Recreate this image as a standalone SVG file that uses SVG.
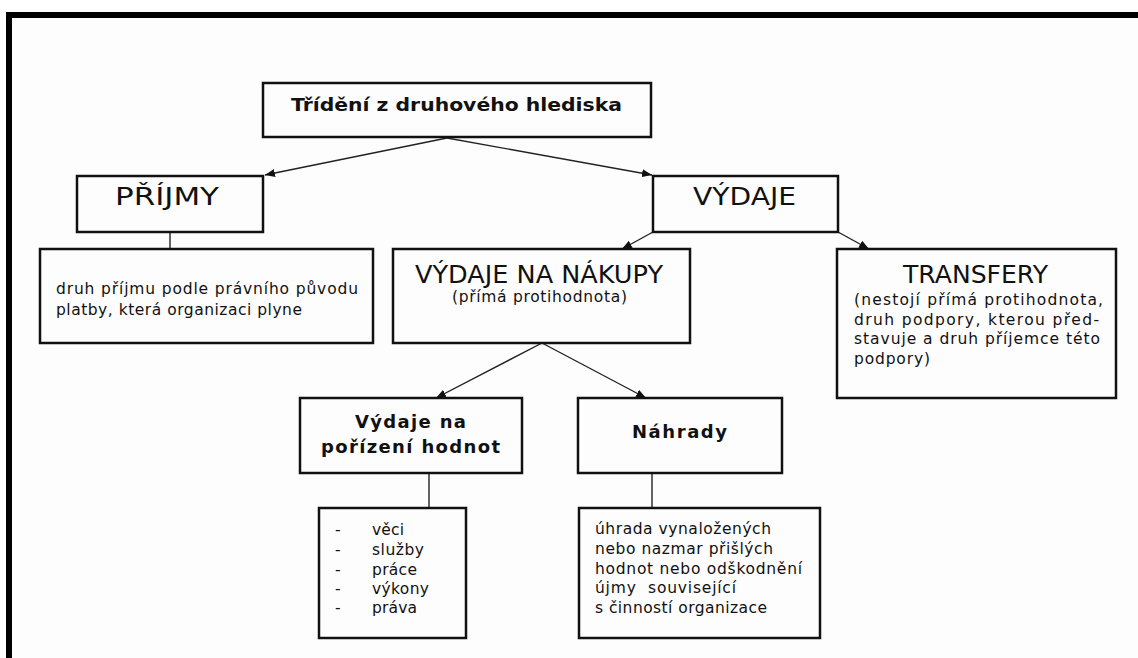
<svg xmlns="http://www.w3.org/2000/svg" width="1138" height="658" viewBox="0 0 1138 658">
<defs>
<marker id="ah" markerUnits="userSpaceOnUse" markerWidth="10" markerHeight="8" refX="10" refY="4" orient="auto">
<path d="M0,0 L10,4 L0,8 z" fill="#111"/>
</marker>
<style>
.box{fill:#fdfdfd;stroke:#111;stroke-width:2.5}
.con{stroke:#222;stroke-width:1.4;fill:none}
.t{font-family:"DejaVu Sans","Liberation Sans",sans-serif;fill:#111}
.b{font-weight:bold;font-size:18px}
.h{font-size:24px}
.s{font-size:15.5px}
.c{text-anchor:middle}
</style>
</defs>
<rect x="0" y="0" width="1138" height="658" fill="#ffffff"/>
<rect x="12" y="18" width="1126" height="640" fill="#fdfdfd"/>
<rect x="6" y="12" width="1132" height="6" fill="#000"/>
<rect x="6" y="12" width="6" height="646" fill="#000"/>

<g id="connectors">
<line class="con" x1="447" y1="138" x2="265" y2="175" marker-end="url(#ah)"/>
<line class="con" x1="447" y1="138" x2="652" y2="175" marker-end="url(#ah)"/>
<line class="con" x1="653" y1="232" x2="622" y2="249" marker-end="url(#ah)"/>
<line class="con" x1="838" y1="232" x2="869" y2="249" marker-end="url(#ah)"/>
<line class="con" x1="542" y1="343" x2="436" y2="398" marker-end="url(#ah)"/>
<line class="con" x1="542" y1="343" x2="646" y2="398" marker-end="url(#ah)"/>
<line class="con" x1="170" y1="232" x2="170" y2="249"/>
<line class="con" x1="429" y1="473" x2="429" y2="508"/>
<line class="con" x1="652" y1="473" x2="652" y2="508"/>
</g>

<g id="node-root">
<rect class="box" x="263" y="83" width="388" height="54"/>
<text class="t" x="291" y="111" font-weight="bold" font-size="18" textLength="331" lengthAdjust="spacingAndGlyphs">Třídění z druhového hlediska</text>
</g>

<g id="node-prijmy">
<rect class="box" x="77" y="176" width="186" height="56"/>
<text class="t h" x="115" y="205" textLength="104" lengthAdjust="spacingAndGlyphs">PŘÍJMY</text>
</g>

<g id="node-prijmy-desc">
<rect class="box" x="40" y="249" width="333" height="94"/>
<text class="t s" x="56" y="294" textLength="302" lengthAdjust="spacing">druh příjmu podle právního původu</text>
<text class="t s" x="56" y="315" textLength="246" lengthAdjust="spacing">platby, která organizaci plyne</text>
</g>

<g id="node-vydaje">
<rect class="box" x="653" y="176" width="185" height="56"/>
<text class="t h" x="693" y="205" textLength="103" lengthAdjust="spacingAndGlyphs">VÝDAJE</text>
</g>

<g id="node-nakupy">
<rect class="box" x="393" y="249" width="297" height="94"/>
<text class="t h" x="415" y="283" textLength="248" lengthAdjust="spacingAndGlyphs">VÝDAJE NA NÁKUPY</text>
<text class="t s" x="452" y="302" textLength="175" lengthAdjust="spacing">(přímá protihodnota)</text>
</g>

<g id="node-transfery">
<rect class="box" x="837" y="249" width="279" height="149"/>
<text class="t h" x="903" y="283" textLength="145" lengthAdjust="spacingAndGlyphs">TRANSFERY</text>
<text class="t s" x="854" y="305" textLength="249" lengthAdjust="spacing">(nestojí přímá protihodnota,</text>
<text class="t s" x="854" y="325" textLength="245" lengthAdjust="spacing">druh podpory, kterou před-</text>
<text class="t s" x="854" y="344" textLength="246" lengthAdjust="spacing">stavuje a druh příjemce této</text>
<text class="t s" x="854" y="364" textLength="76" lengthAdjust="spacing">podpory)</text>
</g>

<g id="node-porizeni">
<rect class="box" x="300" y="398" width="222" height="75"/>
<text class="t b" x="355" y="428" textLength="111" lengthAdjust="spacing">Výdaje na</text>
<text class="t b" x="321" y="453" textLength="179" lengthAdjust="spacing">pořízení hodnot</text>
</g>

<g id="node-porizeni-list">
<rect class="box" x="319" y="508" width="147" height="130"/>
<text class="t s" x="335" y="535">-</text>
<text class="t s" x="372" y="535" textLength="32" lengthAdjust="spacing">věci</text>
<text class="t s" x="335" y="555">-</text>
<text class="t s" x="372" y="555" textLength="52" lengthAdjust="spacing">služby</text>
<text class="t s" x="335" y="575">-</text>
<text class="t s" x="372" y="575" textLength="45" lengthAdjust="spacing">práce</text>
<text class="t s" x="335" y="594">-</text>
<text class="t s" x="372" y="594" textLength="57" lengthAdjust="spacing">výkony</text>
<text class="t s" x="335" y="613">-</text>
<text class="t s" x="372" y="613" textLength="45" lengthAdjust="spacing">práva</text>
</g>

<g id="node-nahrady">
<rect class="box" x="578" y="398" width="204" height="75"/>
<text class="t b" x="632" y="438" textLength="95" lengthAdjust="spacing">Náhrady</text>
</g>

<g id="node-nahrady-desc">
<rect class="box" x="579" y="508" width="241" height="130"/>
<text class="t s" x="595" y="534" textLength="176" lengthAdjust="spacing">úhrada vynaložených</text>
<text class="t s" x="595" y="554" textLength="178" lengthAdjust="spacing">nebo nazmar přišlých</text>
<text class="t s" x="595" y="574" textLength="207" lengthAdjust="spacing">hodnot nebo odškodnění</text>
<text class="t s" x="595" y="593" textLength="141" lengthAdjust="spacing" xml:space="preserve">újmy  související</text>
<text class="t s" x="595" y="613" textLength="172" lengthAdjust="spacing">s činností organizace</text>
</g>
</svg>
